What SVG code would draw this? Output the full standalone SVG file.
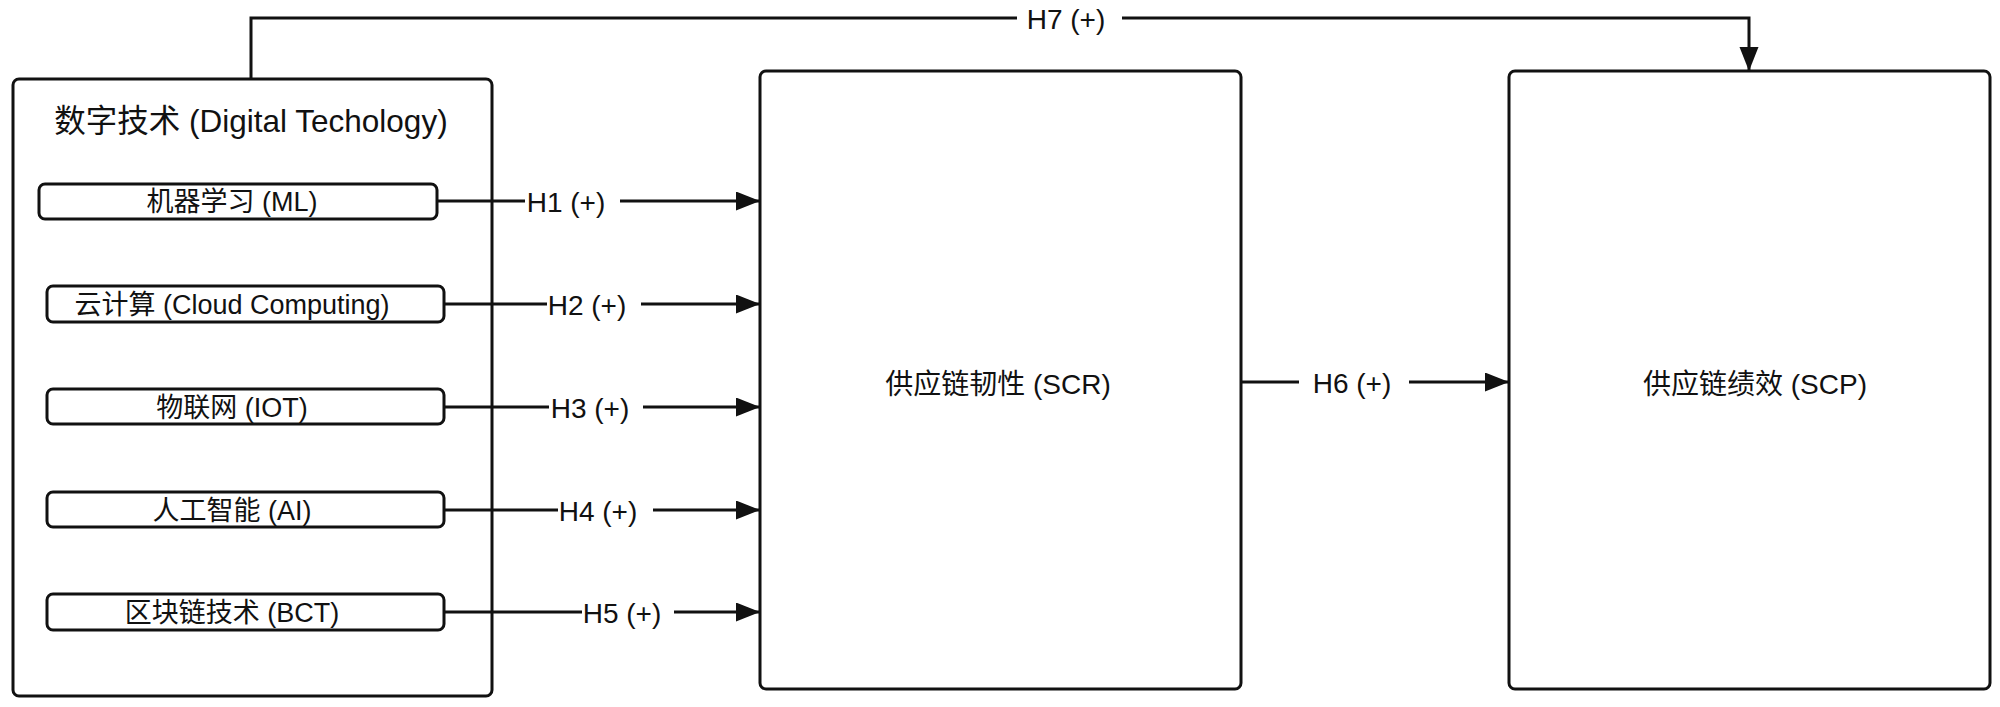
<svg xmlns="http://www.w3.org/2000/svg" width="2000" height="707" viewBox="0 0 2000 707">
<defs>
<style>
text{font-family:"Liberation Sans","Noto Sans CJK SC",sans-serif;fill:#111;}
.box{fill:#fff;stroke:#111;stroke-width:3;}
.sub{fill:#fff;stroke:#111;stroke-width:3;}
.title{font-size:31.5px;}
.lbl{font-size:27px;text-anchor:middle;}
.big{font-size:28px;text-anchor:middle;}
.h{font-size:28px;text-anchor:middle;}
.edge{fill:none;stroke:#111;stroke-width:3;}
</style>
<marker id="arr" markerUnits="userSpaceOnUse" markerWidth="26" markerHeight="20" refX="24" refY="9.5" orient="auto">
<path d="M0,0 L24,9.5 L0,19 Z" fill="#111"/>
</marker>
</defs>
<rect width="2000" height="707" fill="#fff"/>
<g id="digital-technology">
<rect class="box" x="13" y="79" width="479" height="617" rx="6"/>
<text class="title" x="251" y="132" text-anchor="middle">数字技术 (Digital Techology)</text>
</g>
<g id="ml">
<rect class="sub" x="39" y="184" width="398" height="35" rx="6"/>
<text class="lbl" x="232" y="210.5">机器学习 (ML)</text>
</g>
<g id="cloud">
<rect class="sub" x="47" y="286" width="397" height="36" rx="6"/>
<text class="lbl" x="232" y="313.5">云计算 (Cloud Computing)</text>
</g>
<g id="iot">
<rect class="sub" x="47" y="389" width="397" height="35" rx="6"/>
<text class="lbl" x="232" y="416.5">物联网 (IOT)</text>
</g>
<g id="ai">
<rect class="sub" x="47" y="492" width="397" height="35" rx="6"/>
<text class="lbl" x="232" y="519.5">人工智能 (AI)</text>
</g>
<g id="bct">
<rect class="sub" x="47" y="594" width="397" height="36" rx="6"/>
<text class="lbl" x="232" y="621.5">区块链技术 (BCT)</text>
</g>
<g id="scr">
<rect class="box" x="760" y="71" width="481" height="618" rx="6"/>
<text class="big" x="998" y="394">供应链韧性 (SCR)</text>
</g>
<g id="scp">
<rect class="box" x="1509" y="71" width="481" height="618" rx="6"/>
<text class="big" x="1755" y="394">供应链绩效 (SCP)</text>
</g>
<g id="connectors">
<path class="edge" d="M437,201 H525"/>
<path class="edge" d="M620,201 H760" marker-end="url(#arr)"/>
<path class="edge" d="M444,304 H547"/>
<path class="edge" d="M641,304 H760" marker-end="url(#arr)"/>
<path class="edge" d="M444,407 H549"/>
<path class="edge" d="M643,407 H760" marker-end="url(#arr)"/>
<path class="edge" d="M444,510 H558"/>
<path class="edge" d="M653,510 H760" marker-end="url(#arr)"/>
<path class="edge" d="M444,612 H582"/>
<path class="edge" d="M674,612 H760" marker-end="url(#arr)"/>
<path class="edge" d="M1241,382 H1299"/>
<path class="edge" d="M1409,382 H1509" marker-end="url(#arr)"/>
<path class="edge" d="M251,79 V18 H1017"/>
<path class="edge" d="M1122,18 H1749 V71" marker-end="url(#arr)"/>
<text class="h" x="566" y="211.5">H1 (+)</text>
<text class="h" x="587" y="314.5">H2 (+)</text>
<text class="h" x="590" y="417.5">H3 (+)</text>
<text class="h" x="598" y="520.5">H4 (+)</text>
<text class="h" x="622" y="622.5">H5 (+)</text>
<text class="h" x="1352" y="392.5">H6 (+)</text>
<text class="h" x="1066" y="28.5">H7 (+)</text>
</g>
</svg>
